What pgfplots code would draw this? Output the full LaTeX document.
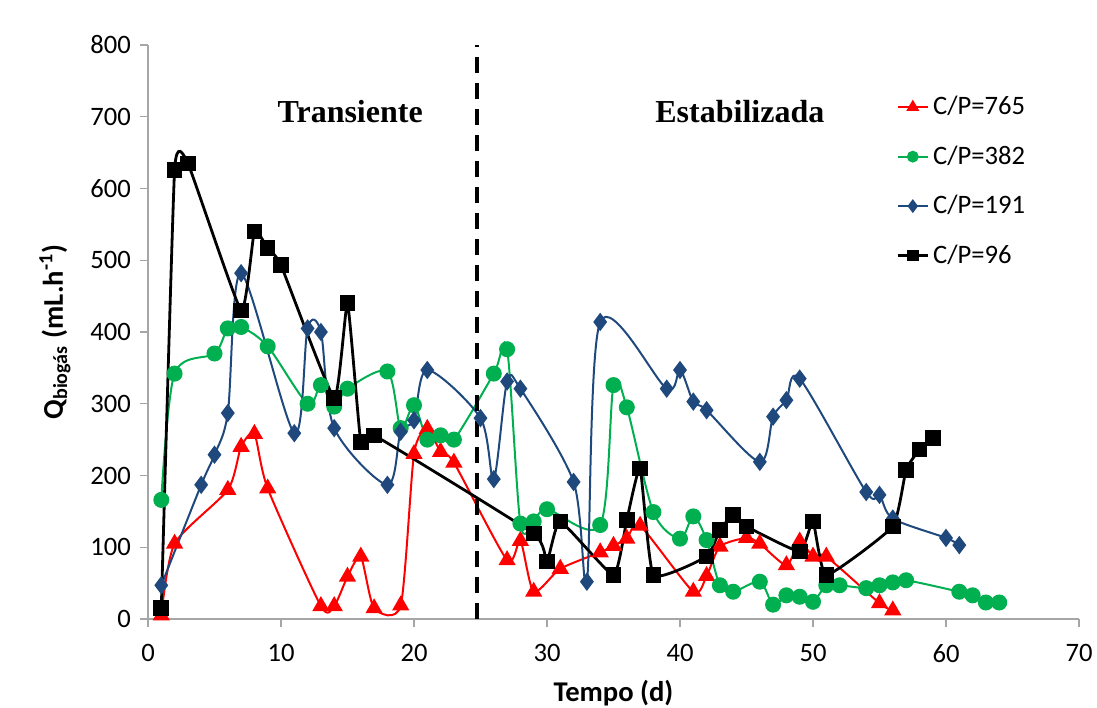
\documentclass[border=0pt]{standalone}
\usepackage{fontspec}
\setmainfont{Carlito}
\newfontfamily\timesfont{Liberation Serif}
\usepackage{pgfplots}
\pgfplotsset{compat=1.18}

\definecolor{cpred}{HTML}{FF0000}
\definecolor{cpgreen}{HTML}{00B050}
\definecolor{cpblue}{HTML}{1F497D}
\definecolor{axgrey}{HTML}{A6A6A6}

\begin{document}
\begin{tikzpicture}
\path[use as bounding box] (-74pt,-44pt) rectangle (474.5pt,309.5pt);
\begin{axis}[
  at={(0,0)}, anchor=south west,
  width=465.5pt, height=287pt, scale only axis,
  xmin=0, xmax=70, ymin=0, ymax=800,
  xtick={0,10,...,70}, ytick={0,100,...,800},
  axis x line*=bottom, axis y line*=left,
  axis line style={draw=axgrey, line width=0.7pt, -},
  tick style={draw=axgrey, line width=0.7pt},
  tick align=outside, major tick length=4pt,
  tick label style={font=\fontsize{13.3}{15}\selectfont},
  xticklabel style={yshift=-5pt},
  yticklabel style={xshift=-1pt},
  /pgf/number format/assume math mode=true,
  xlabel={Tempo (d)},
  xlabel style={font=\bfseries\fontsize{14.3}{16}\selectfont, at={(axis description cs:0.5,-0.129)}, anchor=center},
  ylabel={Q\textsubscript{biogás} (mL.h\textsuperscript{-1})},
  ylabel style={font=\bfseries\fontsize{14.3}{16}\selectfont, at={(axis description cs:-0.1,0.5)}, anchor=center},
  legend style={at={(axis description cs:0.797,0.925)}, anchor=north west,
    draw=none, fill=none, font=\fontsize{13.3}{15}\selectfont, row sep=10pt,
    /tikz/every even column/.append style={column sep=1.5pt}},
  legend cell align=left,
  legend image code/.code={%
    \draw[#1, mark=none] (0pt,0pt) -- (15pt,0pt);
    \draw[#1, only marks, mark options={scale=0.7}] plot coordinates {(7.5pt,0pt)};},
  clip=false,
]
% C/P=765
\addplot[cpred, line width=1pt, smooth, tension=0.4, mark=triangle*, mark size=4pt, mark options={solid, fill=cpred}] coordinates {
(1,5) (2,105) (6,180) (7,240) (8,258) (9,182) (13,18) (14,18) (15,59) (16,87)
(17,15) (19,19) (20,230) (21,265) (22,233) (23,218) (27,82) (28,109) (29,38)
(31,70) (34,93) (35,102) (36,112) (37,130) (41,38) (42,60) (43,101) (45,113)
(46,105) (48,75) (49,108) (50,87) (51,87) (55,22) (56,12)
};
\addlegendentry{C/P=765}
% C/P=382
\addplot[cpgreen, line width=1pt, smooth, tension=0.5, mark=*, mark size=3.5pt, mark options={solid, fill=cpgreen}] coordinates {
(1,166) (2,342) (5,370) (6,405) (7,407) (9,380) (12,300) (13,326) (14,296)
(15,321) (18,345) (19,266) (20,298) (21,250) (22,256) (23,250) (26,342)
(27,376) (28,133) (29,136) (30,153) (34,131) (35,326) (36,295) (38,149)
(40,112) (41,143) (42,110) (43,47) (44,38) (46,52) (47,20) (48,33) (49,31)
(50,24) (51,47) (52,47) (54,43) (55,47) (56,51) (57,54) (61,38) (62,33)
(63,23) (64,23)
};
\addlegendentry{C/P=382}
% C/P=191
\addplot[cpblue, line width=1pt, smooth, tension=0.5, mark=diamond*, mark size=3.8pt, mark options={solid, fill=cpblue}] coordinates {
(1,47) (4,187) (5,229) (6,287) (7,482) (11,259) (12,405) (13,400) (14,266)
(18,187) (19,261) (20,277) (21,347) (25,280) (26,195) (27,331) (28,321)
(32,191) (33,52) (34,414) (39,321) (40,347) (41,303) (42,291) (46,219)
(47,282) (48,305) (49,335) (54,177) (55,173) (56,140) (60,113) (61,103)
};
\addlegendentry{C/P=191}
% C/P=96
\addplot[black, line width=1.4pt, smooth, tension=0.25, mark=square*, mark size=3.2pt, mark options={solid, fill=black}] coordinates {
(1,15) (2,626) (3,635) (7,430) (8,540) (9,517) (10,493) (14,308) (15,440)
(16,247) (17,256) (29,119) (30,80) (31,136) (35,61) (36,138) (37,210)
(38,61) (42,87) (43,124) (44,145) (45,129) (49,94) (50,136) (51,61)
(56,129) (57,208) (58,236) (59,252)
};
\addlegendentry{C/P=96}
% phase boundary
\addplot[black, line width=2pt, dash pattern=on 8pt off 5pt, forget plot] coordinates {(24.7,0) (24.7,800)};
\node[font=\timesfont\bfseries\fontsize{16}{18}\selectfont] at (axis cs:15.2,707) {Transiente};
\node[font=\timesfont\bfseries\fontsize{16}{18}\selectfont] at (axis cs:44.5,707) {Estabilizada};
\end{axis}
\end{tikzpicture}
\end{document}
